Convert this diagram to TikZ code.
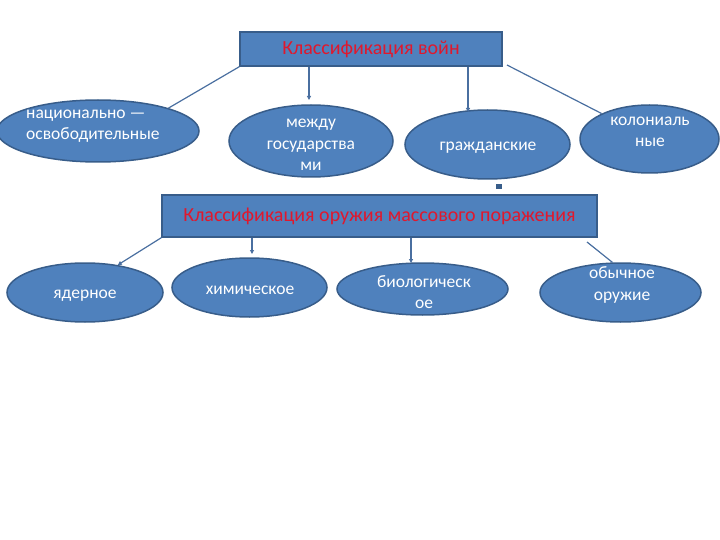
\documentclass[tikz,border=0pt]{standalone}
\usepackage{fontspec}
\setmainfont{Carlito}
\usepackage{tikz}
\usetikzlibrary{shapes, arrows.meta, positioning, calc}
\definecolor{BoxBlue}{HTML}{4F81BD}
\definecolor{EdgeBlue}{HTML}{385D8A}
\definecolor{LinkBlue}{HTML}{4A6FA0}
\definecolor{TitleRed}{HTML}{E0182D}

\begin{document}
\begin{tikzpicture}[x=1pt, y=-1pt,
  titlebox/.style={draw=EdgeBlue, line width=1.5pt, fill=BoxBlue, text=TitleRed, font=\fontsize{20}{22}\selectfont, inner sep=0pt},
  kind/.style={ellipse, draw=EdgeBlue, line width=1.5pt, fill=BoxBlue, inner sep=0pt},
  kindtext/.style={text=white, font=\fontsize{17.5}{21.5}\selectfont, align=center, inner sep=0pt},
  link/.style={LinkBlue, line width=1.2pt},
  arr/.style={link, -{Triangle[length=4pt, width=4pt]}}]
  \useasboundingbox (0,0) rectangle (720,540);
  % Headers
  \node[titlebox, minimum width=262, minimum height=34] (wars) at (371,49) {Классификация войн};
  \node[titlebox, minimum width=435, minimum height=42] (weapons) at (379.5,216) {Классификация оружия массового поражения};
  \node[fill=EdgeBlue, minimum width=6, minimum height=5, inner sep=0pt] (dot) at (499,187) {};
  % Ellipses
  \foreach \n/\x/\y/\w/\h in {1/98/131/202/62, 2/311/141/164/72, 3/487.5/144.5/165/69, 4/649.5/139/139/68,
                              5/85/292.5/156/59, 6/249.5/287.5/155/59, 7/422.5/289/171/52, 8/620.5/292.5/161/59}
    \node[kind, minimum width=\w, minimum height=\h] (e\n) at (\x,\y) {};
  % Texts
  \node[kindtext, align=left, anchor=west] (t1) at (26,126) {национально —\\освободительные};
  \node[kindtext] (t2) at (311,145) {между\\государства\\ми};
  \node[kindtext] (t3) at (488,148) {гражданские};
  \node[kindtext] (t4) at (650,132) {колониаль\\ные};
  \node[kindtext] (t5) at (85,296) {ядерное};
  \node[kindtext] (t6) at (250,290) {химическое};
  \node[kindtext] (t7) at (424,292) {биологическ\\ое};
  \node[kindtext] (t8) at (622,285) {обычное\\оружие};
  % Wars links
  \coordinate (w2) at (309,100);
  \coordinate (w3) at (468,112);
  \coordinate (w4) at (507,65);
  \draw[link] (wars.south west) -- (e1.18);
  \draw[arr] (wars.south -| w2) -- (w2);
  \draw[arr] (wars.south -| w3) -- (w3);
  \draw[link] (w4) -- (e4.152);
  % Weapons links
  \coordinate (m6) at (252,254);
  \coordinate (m7) at (411,263);
  \coordinate (m8) at (587,242);
  \draw[arr] (weapons.south west) -- (e5.40);
  \draw[arr] (weapons.south -| m6) -- (m6);
  \draw[arr] (weapons.south -| m7) -- (m7);
  \draw[link] (m8) -- (e8.105);
\end{tikzpicture}
\end{document}
